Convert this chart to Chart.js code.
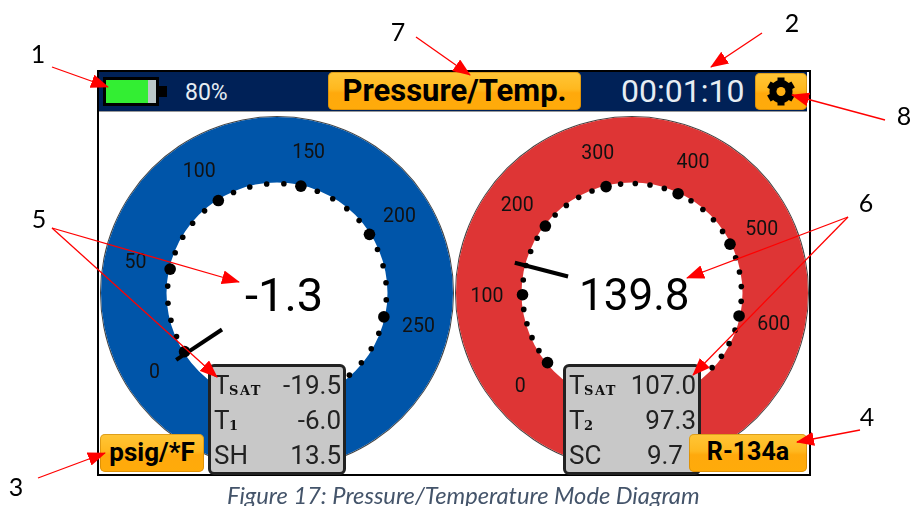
<!DOCTYPE html>
<html>
<head>
<meta charset="utf-8">
<script src="https://cdn.jsdelivr.net/npm/chart.js@4"></script>
<style>
html, body { margin: 0; padding: 0; background: #fff; }
#page { position: relative; width: 915px; height: 506px; overflow: hidden; font-family: Roboto, sans-serif; }
#page > * { position: absolute; }
canvas { position: absolute; }
.frame { left: 97px; top: 70px; width: 710px; height: 402px; border: 2px solid #000; }
.header { left: 99px; top: 72px; width: 708px; height: 39px; background: #002157; border-bottom: 1px solid #999; }
.btn { background: linear-gradient(#ffc637 0%, #ffb81f 45%, #ffa90c 55%, #ffab0a 100%); border-radius: 5px; color: #000; font-weight: 700;
  text-align: center; box-shadow: inset 0 0 0 1px rgba(190,120,0,.5); }
.batt { left: 103px; top: 77px; width: 50px; height: 23px; border: 3px solid #000; background: #bcc8c8; }
.batt i { display: block; width: 42px; height: 23px; background: #33ee33; }
.tip { left: 159px; top: 86px; width: 8px; height: 11px; background: #000; }
.light { color: #e6edf3; white-space: nowrap; }
.readout { line-height: 50px; color: #000; white-space: nowrap; }
.panel { top: 364px; width: 132px; height: 105px; background: #c8c8c8; border: 3px solid #222; border-radius: 6px; color: #222; }
.panel span { position: absolute; white-space: nowrap; font-size: 26px; line-height: 30px; }
.panel .lab { left: 3px; }
.panel sub { position: absolute; left: 15px; top: 14px; font: bold 13px/14px "DejaVu Serif", serif; letter-spacing: 1.5px; color: #111; }
.num { font: 25px/28px Lato, sans-serif; color: #000; width: 30px; text-align: center; }
.caption { left: 227px; top: 483px; font: italic 23.7px/24px Lato, sans-serif; color: #44546a; white-space: nowrap; }
</style>
</head>
<body>
<div id="page">
  <canvas id="dialPressure" width="356" height="356" style="left:99px;top:115px"></canvas>
  <canvas id="dialTemp" width="356" height="356" style="left:454px;top:115px"></canvas>
  <div class="frame"></div>
  <div class="header"></div>
  <div class="batt"><i></i></div><div class="tip"></div>
  <div class="light" style="left:185px;top:79px;font-size:23px;line-height:27px">80%</div>
  <div class="btn" style="left:328px;top:72px;width:253px;height:38px;font-size:31px;line-height:38px">Pressure/Temp.</div>
  <div class="light" style="left:621px;top:72px;font-size:32px;line-height:38px">00:01:10</div>
  <div class="btn" style="left:755px;top:73px;width:52px;height:37px"></div>
  <svg style="left:755px;top:73px" width="52" height="37" viewBox="-26 -18.5 52 37">
    <circle r="8.5" fill="none" stroke="#000" stroke-width="6"/>
    <g fill="#000"><rect x="-3.5" y="-14" width="7" height="28"/>
    <rect x="-3.5" y="-14" width="7" height="28" transform="rotate(60)"/>
    <rect x="-3.5" y="-14" width="7" height="28" transform="rotate(120)"/></g>
    <circle r="4.5" fill="#ffb014"/>
  </svg>
  <div id="readPressure" class="readout" style="left:245px;top:270px;font-size:47px"></div>
  <div id="readTemp" class="readout" style="left:579px;top:270px;font-size:44px"></div>
  <div id="panelLeft" class="panel" style="left:208px"></div>
  <div id="panelRight" class="panel" style="left:563px"></div>
  <div class="btn" style="left:100px;top:434px;width:104px;height:38px;font-size:26px;line-height:36px">psig/*F</div>
  <div class="btn" style="left:689px;top:434px;width:118px;height:38px;font-size:25px;line-height:36px">R-134a</div>
  <svg style="left:0;top:0" width="915" height="506">
    <defs><marker id="head" markerUnits="userSpaceOnUse" markerWidth="18" markerHeight="14" refX="17" refY="7" orient="auto">
      <path d="M0 0 L18 7 L0 14 Z" fill="#f00"/></marker></defs>
    <g stroke="#f00" stroke-width="1.3" fill="none">
      <line x1="52" y1="67" x2="108" y2="87" marker-end="url(#head)"/>
      <line x1="416" y1="37" x2="470" y2="75" marker-end="url(#head)"/>
      <line x1="762" y1="33" x2="711" y2="67" marker-end="url(#head)"/>
      <line x1="885" y1="120" x2="792" y2="95" marker-end="url(#head)"/>
      <line x1="848" y1="217" x2="687" y2="278" marker-end="url(#head)"/>
      <line x1="848" y1="217" x2="693" y2="375" marker-end="url(#head)"/>
      <line x1="52" y1="228" x2="239" y2="282" marker-end="url(#head)"/>
      <line x1="52" y1="228" x2="217" y2="377" marker-end="url(#head)"/>
      <line x1="38" y1="478" x2="105" y2="453" marker-end="url(#head)"/>
      <line x1="860" y1="430" x2="797" y2="442" marker-end="url(#head)"/>
    </g>
  </svg>
  <div class="num" style="left:23px;top:39px">1</div>
  <div class="num" style="left:777px;top:8px">2</div>
  <div class="num" style="left:1px;top:472px">3</div>
  <div class="num" style="left:852px;top:402px">4</div>
  <div class="num" style="left:24px;top:204px">5</div>
  <div class="num" style="left:851px;top:188px">6</div>
  <div class="num" style="left:383px;top:17px">7</div>
  <div class="num" style="left:889px;top:101px">8</div>
  <div class="caption">Figure 17: Pressure/Temperature Mode Diagram</div>
</div>
<script>
const pressureMajor = [0, 50, 100, 150, 200, 250];
const pressureMinor = [10, 20, 30, 40, 60, 70, 80, 90, 110, 120, 130, 140, 160, 170, 180, 190, 210, 220, 230, 240, 260, 270, 280, 290];
const pressureReading = -1.3;
const pressureStartDeg = -122.4;
const pressureDegPerUnit = 0.9;

const tempMajor = [0, 100, 200, 300, 400, 500, 600];
const tempMinor = [20, 40, 60, 80, 120, 140, 160, 180, 220, 240, 260, 280, 320, 340, 360, 380, 420, 440, 460, 480, 520, 540, 560, 580, 620, 640, 660, 680];
const tempReading = 139.8;
const tempStartDeg = -129.5;
const tempDegPerUnit = 0.386;

const leftRows = ["T", "T", "SH"];
const leftSubs = ["SAT", "1", ""];
const leftValues = ["-19.5", "-6.0", "13.5"];
const leftRightGap = [2, 2, 2];
const rightRows = ["T", "T", "SC"];
const rightSubs = ["SAT", "2", ""];
const rightValues = ["107.0", "97.3", "9.7"];
const rightRightGap = [2, 2, 15]; // SC value sits clear of the refrigerant button

// dial centre is 0,0 and one unit is one pixel of the 356px canvas
const OUTER = 177, INNER = 110.5, DOT_R = 109.5, LABEL_R = 145;

function polar(deg, r) {
    const a = deg * Math.PI / 180;
    return { x: r * Math.sin(a), y: r * Math.cos(a) };
}

const dialLabels = {
    id: "dialLabels",
    afterDatasetsDraw(chart, args, opts) {
        const ctx = chart.ctx;
        ctx.save();
        ctx.font = "19.5px Roboto";
        ctx.fillStyle = "#111";
        ctx.textAlign = "center";
        ctx.textBaseline = "middle";
        opts.values.forEach(v => {
            const p = polar(opts.start + v * opts.rate, LABEL_R);
            ctx.fillText(String(v), chart.scales.x.getPixelForValue(p.x), chart.scales.y.getPixelForValue(p.y) + 2);
        });
        ctx.restore();
    }
};

function makeDial(id, color, major, minor, reading, start, rate) {
    const angle = v => start + v * rate;
    const needleDeg = angle(reading);
    return new Chart(id, {
        type: "scatter",
        plugins: [dialLabels],
        data: {
            datasets: [
                { type: "line", order: 1, weight: 0, data: [polar(needleDeg, 66), polar(needleDeg, 121)],
                  borderColor: "#000", borderWidth: 4, pointRadius: 0, parsing: false },
                { order: 2, weight: 0, data: major.map(v => polar(angle(v), DOT_R)),
                  backgroundColor: "#000", borderWidth: 0, pointRadius: 5.8, parsing: false },
                { order: 3, weight: 0, data: minor.map(v => polar(angle(v), DOT_R)),
                  backgroundColor: "#000", borderWidth: 0, pointRadius: 2.8, parsing: false },
                { type: "doughnut", order: 11, weight: 1, data: [1], backgroundColor: ["#444"], borderWidth: 0,
                  radius: OUTER, cutout: (INNER / OUTER * 100) + "%" },
                { type: "doughnut", order: 10, weight: 65, data: [1], backgroundColor: [color], borderWidth: 0,
                  radius: OUTER, cutout: (INNER / OUTER * 100) + "%" }
            ]
        },
        options: {
            responsive: false,
            animation: false,
            layout: { padding: 0, autoPadding: false },
            scales: {
                x: { type: "linear", min: -178, max: 178, display: false },
                y: { type: "linear", min: -178, max: 178, display: false }
            },
            plugins: { legend: { display: false }, tooltip: { enabled: false },
                dialLabels: { values: major, start: start, rate: rate } }
        }
    });
}

makeDial("dialPressure", "#0055a9", pressureMajor, pressureMinor, pressureReading, pressureStartDeg, pressureDegPerUnit);
makeDial("dialTemp", "#de3535", tempMajor, tempMinor, tempReading, tempStartDeg, tempDegPerUnit);

document.getElementById("readPressure").textContent = pressureReading.toFixed(1);
document.getElementById("readTemp").textContent = tempReading.toFixed(1);

function fillPanel(id, rows, subs, values, gaps) {
    let html = "";
    for (let i = 0; i < rows.length; i++) {
        const top = 3 + i * 35;
        html += "<span class='lab' style='top:" + top + "px'>" + rows[i];
        if (subs[i]) html += "<sub>" + subs[i] + "</sub>";
        html += "</span><span style='top:" + top + "px;right:" + gaps[i] + "px'>" + values[i] + "</span>";
    }
    document.getElementById(id).innerHTML = html;
}
fillPanel("panelLeft", leftRows, leftSubs, leftValues, leftRightGap);
fillPanel("panelRight", rightRows, rightSubs, rightValues, rightRightGap);
</script>
</body>
</html>
